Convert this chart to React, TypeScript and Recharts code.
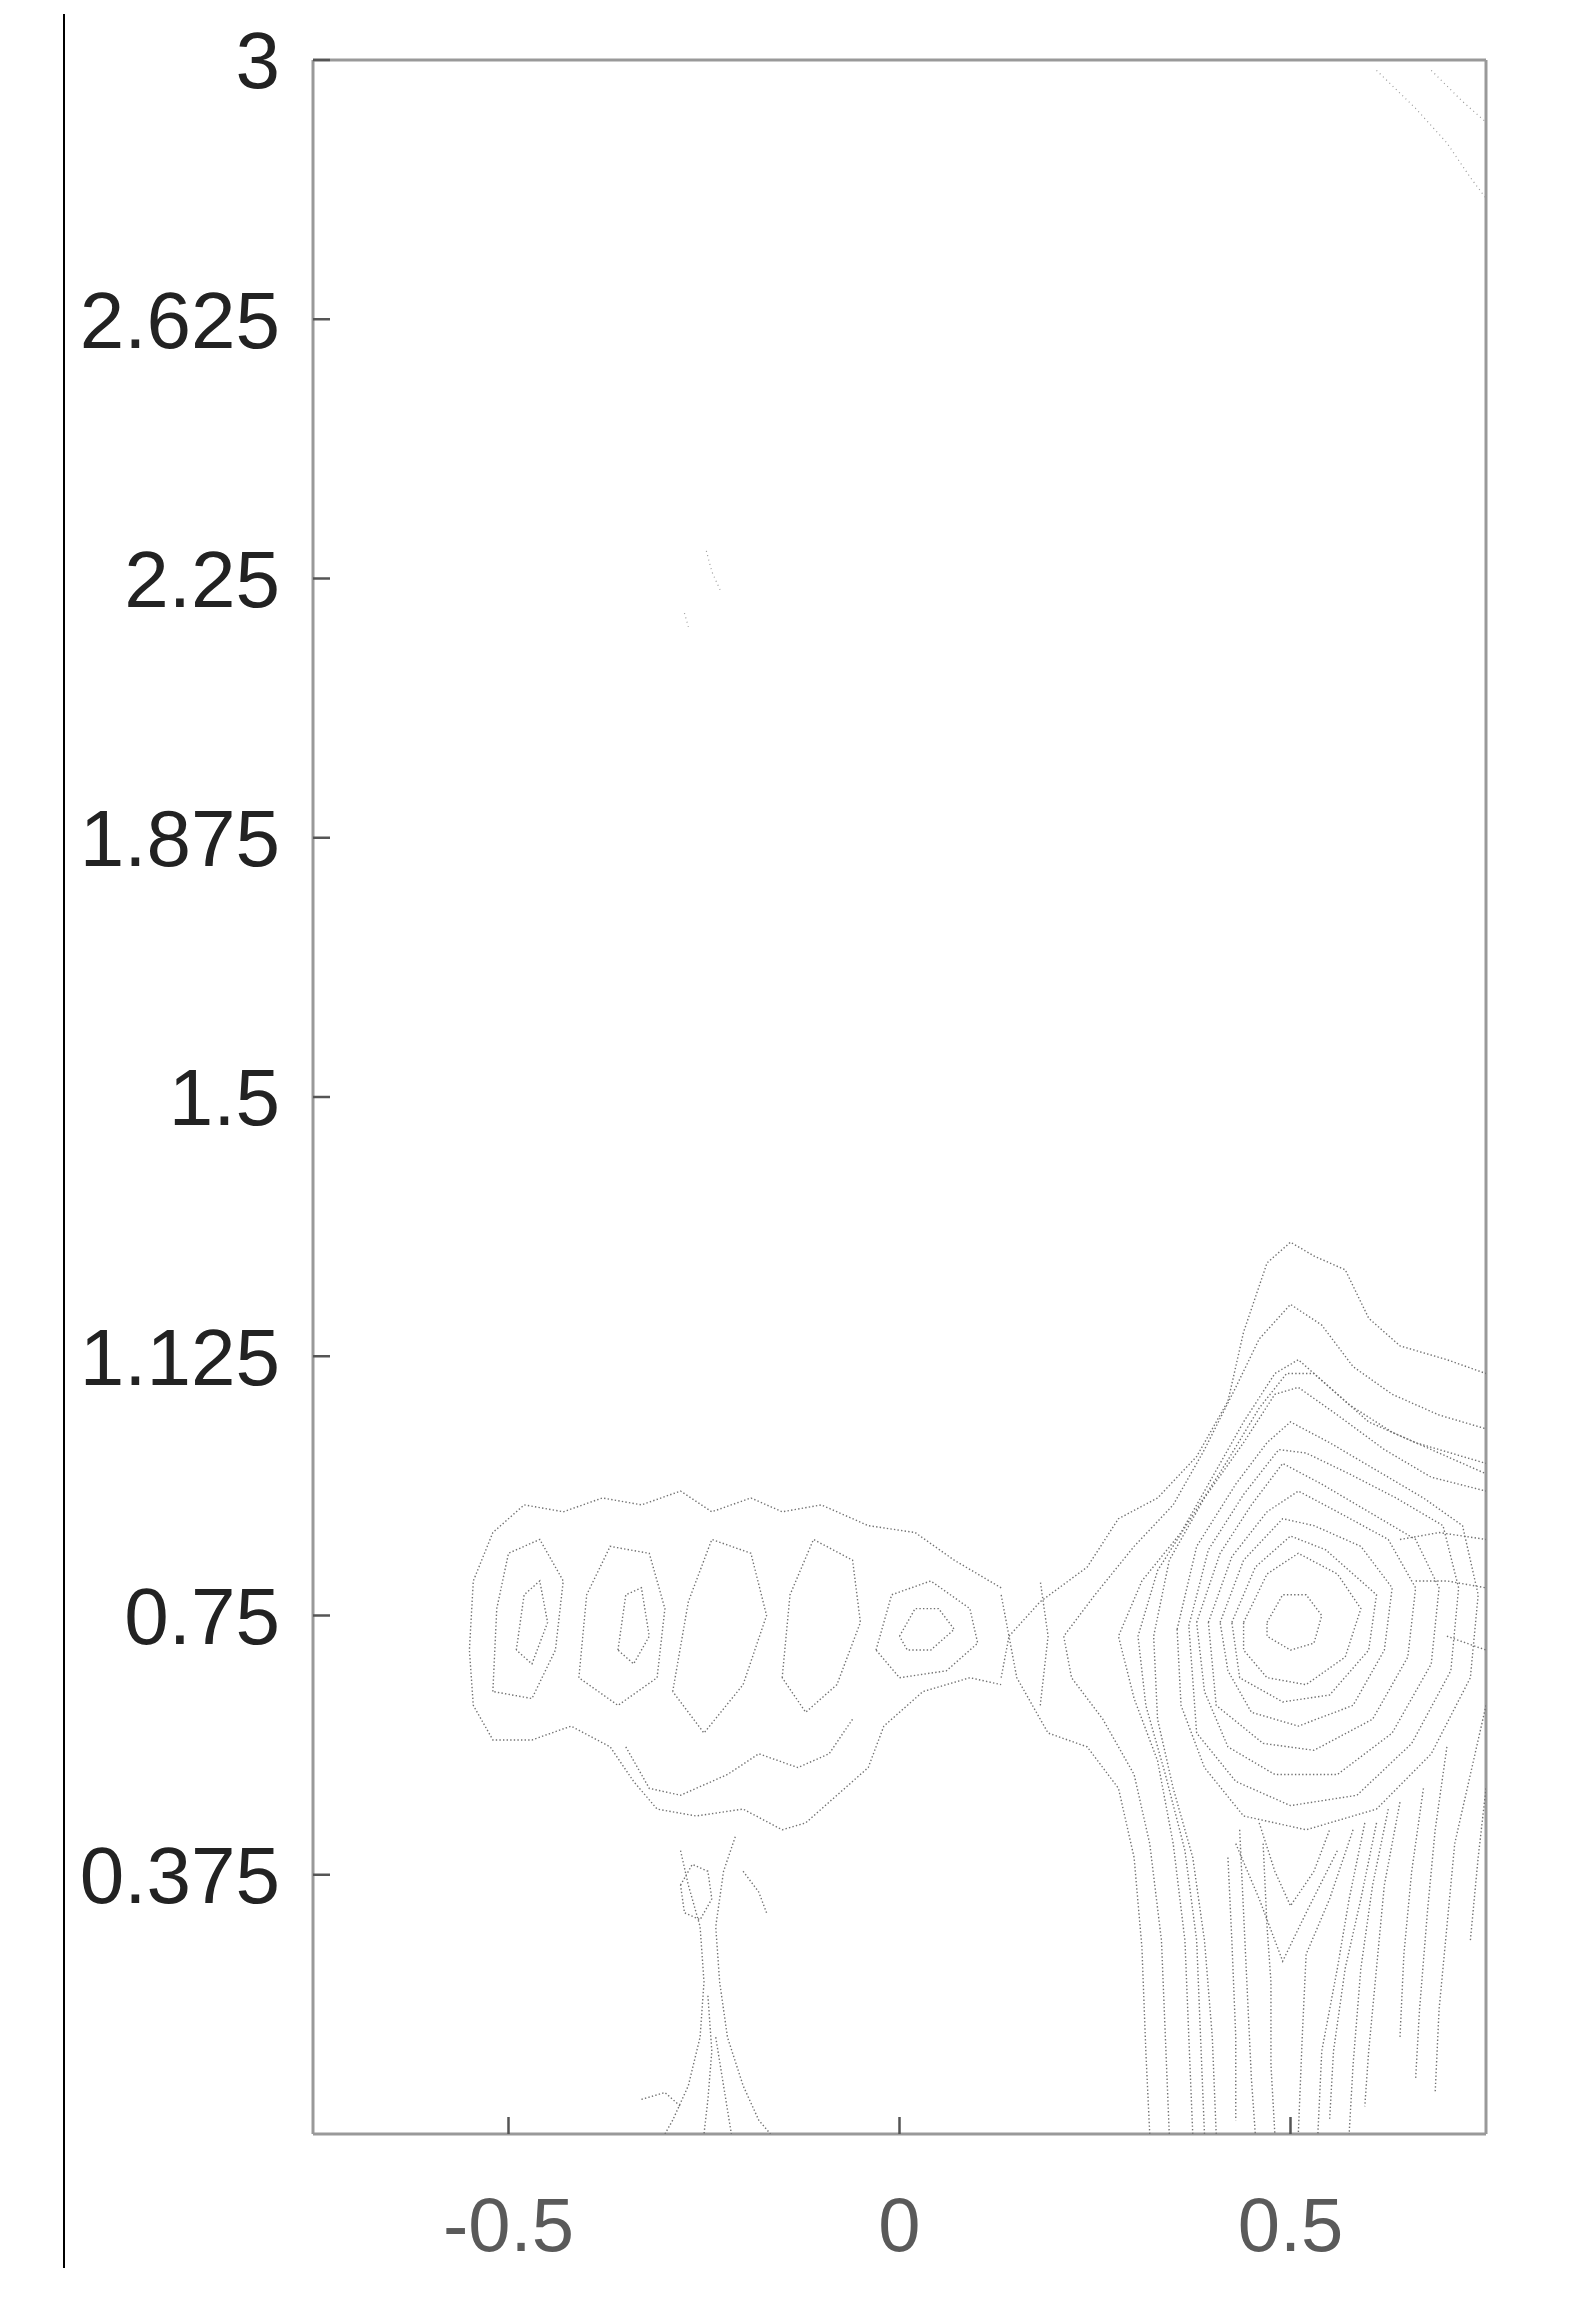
import { Scatter, ScatterChart, XAxis, YAxis } from "recharts";

type Pt = [number, number];

const FONT = '"Liberation Sans", Arial, Helvetica, sans-serif';

const X_TICKS = [-0.5, 0, 0.5];
const Y_TICKS = [0.375, 0.75, 1.125, 1.5, 1.875, 2.25, 2.625, 3];

// left lobe (x < 0.15)
const leftOuter: Pt[] = [
  [0.13, 0.79], [0.07, 0.83], [0.02, 0.87], [-0.04, 0.88], [-0.1, 0.91], [-0.15, 0.9], [-0.19, 0.92],
  [-0.24, 0.9], [-0.28, 0.93], [-0.33, 0.91], [-0.38, 0.92], [-0.43, 0.9], [-0.48, 0.91], [-0.52, 0.87],
  [-0.545, 0.8], [-0.55, 0.7], [-0.545, 0.62], [-0.52, 0.57], [-0.47, 0.57], [-0.42, 0.59], [-0.37, 0.56],
  [-0.34, 0.51], [-0.31, 0.47], [-0.26, 0.46], [-0.2, 0.47], [-0.15, 0.44], [-0.12, 0.45], [-0.08, 0.49],
  [-0.04, 0.53], [-0.02, 0.59], [0.03, 0.64], [0.09, 0.66], [0.13, 0.65],
];
const leftLoopA: Pt[] = [[-0.52, 0.64], [-0.515, 0.76], [-0.5, 0.84], [-0.46, 0.86], [-0.43, 0.8], [-0.44, 0.7], [-0.47, 0.63], [-0.52, 0.64]];
const leftLoopB: Pt[] = [[-0.41, 0.66], [-0.4, 0.78], [-0.37, 0.85], [-0.32, 0.84], [-0.3, 0.76], [-0.31, 0.66], [-0.36, 0.62], [-0.41, 0.66]];
const leftLoopC: Pt[] = [[-0.29, 0.64], [-0.27, 0.77], [-0.24, 0.86], [-0.19, 0.84], [-0.17, 0.75], [-0.2, 0.65], [-0.25, 0.58], [-0.29, 0.64]];
const leftLoopD: Pt[] = [[-0.15, 0.66], [-0.14, 0.78], [-0.11, 0.86], [-0.06, 0.83], [-0.05, 0.74], [-0.08, 0.65], [-0.12, 0.61], [-0.15, 0.66]];
const leftLoopE: Pt[] = [[-0.03, 0.7], [-0.01, 0.78], [0.04, 0.8], [0.09, 0.76], [0.1, 0.71], [0.06, 0.67], [0.0, 0.66], [-0.03, 0.7]];
const leftLoopE2: Pt[] = [[0.0, 0.72], [0.02, 0.76], [0.05, 0.76], [0.07, 0.73], [0.04, 0.7], [0.01, 0.7], [0.0, 0.72]];
const leftLoopF: Pt[] = [[-0.49, 0.7], [-0.48, 0.78], [-0.46, 0.8], [-0.45, 0.74], [-0.47, 0.68], [-0.49, 0.7]];
const leftLoopG: Pt[] = [[-0.36, 0.7], [-0.35, 0.78], [-0.33, 0.79], [-0.32, 0.72], [-0.34, 0.68], [-0.36, 0.7]];
const leftSmile: Pt[] = [[-0.35, 0.56], [-0.32, 0.5], [-0.28, 0.49], [-0.22, 0.52], [-0.18, 0.55], [-0.13, 0.53], [-0.09, 0.55], [-0.06, 0.6]];
const neck1: Pt[] = [[0.13, 0.66], [0.14, 0.72], [0.13, 0.78]];
const neck2: Pt[] = [[0.18, 0.62], [0.19, 0.72], [0.18, 0.8]];

// stem below the left lobe
const trunkLeft: Pt[] = [[-0.28, 0.41], [-0.27, 0.36], [-0.255, 0.3], [-0.25, 0.22], [-0.255, 0.14], [-0.27, 0.07], [-0.29, 0.02], [-0.3, 0.0]];
const trunkRight: Pt[] = [[-0.21, 0.43], [-0.225, 0.38], [-0.235, 0.3], [-0.23, 0.22], [-0.22, 0.14], [-0.2, 0.07], [-0.18, 0.02], [-0.165, 0.0]];
const trunkMid1: Pt[] = [[-0.245, 0.2], [-0.24, 0.12], [-0.245, 0.05], [-0.25, 0.0]];
const trunkMid2: Pt[] = [[-0.235, 0.14], [-0.225, 0.07], [-0.215, 0.0]];
const trunkKnot: Pt[] = [[-0.28, 0.36], [-0.265, 0.39], [-0.245, 0.38], [-0.24, 0.34], [-0.255, 0.31], [-0.275, 0.32], [-0.28, 0.36]];
const trunkSide: Pt[] = [[-0.2, 0.38], [-0.18, 0.35], [-0.17, 0.32]];
const trunkBase: Pt[] = [[-0.33, 0.05], [-0.3, 0.06], [-0.28, 0.04]];

// right peak
const ring1: Pt[] = [[0.47, 0.74], [0.49, 0.78], [0.52, 0.78], [0.54, 0.75], [0.53, 0.71], [0.5, 0.7], [0.47, 0.72], [0.47, 0.74]];
const ring2: Pt[] = [[0.44, 0.74], [0.47, 0.81], [0.51, 0.84], [0.56, 0.81], [0.59, 0.76], [0.57, 0.69], [0.52, 0.65], [0.47, 0.66], [0.44, 0.7], [0.44, 0.74]];
const ring2b: Pt[] = [
  [0.425, 0.74], [0.455, 0.82], [0.5, 0.865], [0.545, 0.845], [0.61, 0.78], [0.6, 0.7], [0.55, 0.635],
  [0.49, 0.625], [0.435, 0.66], [0.425, 0.74],
];
const ring3: Pt[] = [
  [0.41, 0.74], [0.44, 0.83], [0.49, 0.89], [0.53, 0.88], [0.59, 0.85], [0.63, 0.79], [0.62, 0.7], [0.58, 0.62],
  [0.51, 0.59], [0.45, 0.61], [0.42, 0.67], [0.41, 0.74],
];
const ring3b: Pt[] = [
  [0.395, 0.74], [0.425, 0.835], [0.47, 0.9], [0.51, 0.93], [0.56, 0.9], [0.625, 0.86], [0.66, 0.79], [0.65, 0.69],
  [0.605, 0.6], [0.53, 0.555], [0.465, 0.565], [0.405, 0.62], [0.395, 0.74],
];
const ring4: Pt[] = [
  [0.38, 0.74], [0.41, 0.84], [0.45, 0.91], [0.49, 0.97], [0.54, 0.94], [0.6, 0.9], [0.66, 0.86], [0.69, 0.79],
  [0.68, 0.68], [0.63, 0.58], [0.56, 0.52], [0.48, 0.52], [0.42, 0.56], [0.39, 0.64], [0.38, 0.74],
];
const ring4b: Pt[] = [
  [0.37, 0.735], [0.395, 0.845], [0.44, 0.925], [0.485, 0.99], [0.52, 0.985], [0.575, 0.955], [0.635, 0.92],
  [0.695, 0.88], [0.715, 0.79], [0.705, 0.67], [0.655, 0.565], [0.585, 0.49], [0.5, 0.475], [0.43, 0.51],
  [0.38, 0.58], [0.37, 0.735],
];
const ring5: Pt[] = [
  [0.355, 0.73], [0.38, 0.85], [0.43, 0.94], [0.47, 1.0], [0.5, 1.03], [0.55, 1.0], [0.61, 0.96], [0.67, 0.92],
  [0.72, 0.88], [0.74, 0.78], [0.73, 0.66], [0.68, 0.55], [0.61, 0.47], [0.52, 0.44], [0.44, 0.46], [0.39, 0.53],
  [0.36, 0.62], [0.355, 0.73],
];
const outer0: Pt[] = [
  [0.32, 0.0], [0.315, 0.12], [0.31, 0.27], [0.3, 0.4], [0.28, 0.5], [0.24, 0.56], [0.19, 0.58], [0.15, 0.66],
  [0.14, 0.72], [0.18, 0.77], [0.24, 0.82], [0.28, 0.89], [0.33, 0.92], [0.38, 0.98], [0.42, 1.06], [0.44, 1.16],
  [0.47, 1.26], [0.5, 1.29], [0.53, 1.27], [0.57, 1.25], [0.6, 1.18], [0.64, 1.14], [0.7, 1.12], [0.75, 1.1],
];
const outer1: Pt[] = [
  [0.345, 0.0], [0.34, 0.14], [0.335, 0.28], [0.32, 0.42], [0.3, 0.52], [0.26, 0.6], [0.22, 0.66], [0.21, 0.72],
  [0.25, 0.78], [0.3, 0.85], [0.35, 0.91], [0.39, 0.99], [0.43, 1.08], [0.46, 1.15], [0.5, 1.2], [0.54, 1.17],
  [0.58, 1.11], [0.63, 1.07], [0.69, 1.04], [0.75, 1.02],
];
const outer2: Pt[] = [
  [0.375, 0.0], [0.37, 0.14], [0.365, 0.28], [0.35, 0.42], [0.33, 0.54], [0.3, 0.63], [0.28, 0.72], [0.31, 0.8],
  [0.36, 0.87], [0.4, 0.95], [0.44, 1.03], [0.48, 1.1], [0.51, 1.12], [0.55, 1.08], [0.6, 1.03], [0.66, 1.0], [0.75, 0.97],
];
const outer2b: Pt[] = [
  [0.39, 0.0], [0.385, 0.14], [0.38, 0.28], [0.365, 0.41], [0.34, 0.52], [0.315, 0.62], [0.305, 0.72], [0.33, 0.815],
  [0.375, 0.895], [0.42, 0.975], [0.46, 1.05], [0.495, 1.1], [0.53, 1.1], [0.575, 1.055], [0.63, 1.015], [0.69, 0.985], [0.75, 0.955],
];
const outer3: Pt[] = [
  [0.405, 0.0], [0.4, 0.14], [0.39, 0.28], [0.375, 0.4], [0.35, 0.5], [0.33, 0.6], [0.325, 0.72], [0.345, 0.83],
  [0.39, 0.92], [0.44, 1.0], [0.48, 1.07], [0.51, 1.08], [0.56, 1.04], [0.62, 0.99], [0.68, 0.95], [0.75, 0.93],
];
const stripe1: Pt[] = [[0.435, 0.44], [0.44, 0.32], [0.445, 0.2], [0.45, 0.08], [0.455, 0.0]];
const stripe2: Pt[] = [[0.465, 0.42], [0.47, 0.3], [0.475, 0.22], [0.475, 0.1], [0.48, 0.0]];
const stripe3: Pt[] = [[0.58, 0.44], [0.55, 0.34], [0.52, 0.26], [0.515, 0.14], [0.51, 0.0]];
const stripe4: Pt[] = [[0.61, 0.45], [0.59, 0.34], [0.57, 0.24], [0.555, 0.12], [0.55, 0.02]];
const stripe5: Pt[] = [[0.64, 0.48], [0.62, 0.36], [0.61, 0.24], [0.6, 0.12], [0.595, 0.04]];
const stripe6: Pt[] = [[0.67, 0.5], [0.655, 0.38], [0.645, 0.26], [0.64, 0.14]];
const stripe7: Pt[] = [[0.75, 0.62], [0.73, 0.52], [0.71, 0.42], [0.7, 0.3], [0.69, 0.18], [0.685, 0.06]];
const stripe8: Pt[] = [[0.75, 0.5], [0.74, 0.4], [0.73, 0.28]];
const stripe9: Pt[] = [[0.595, 0.45], [0.575, 0.34], [0.56, 0.24], [0.54, 0.12], [0.535, 0.0]];
const stripe10: Pt[] = [[0.625, 0.47], [0.605, 0.36], [0.59, 0.24], [0.58, 0.1], [0.575, 0.0]];
const stripe11: Pt[] = [[0.7, 0.56], [0.685, 0.44], [0.675, 0.32], [0.665, 0.18], [0.66, 0.08]];
const stripe12: Pt[] = [[0.42, 0.4], [0.425, 0.28], [0.43, 0.14], [0.43, 0.02]];
const chevron1: Pt[] = [[0.43, 0.42], [0.46, 0.34], [0.49, 0.25], [0.52, 0.32], [0.56, 0.41]];
const chevron2: Pt[] = [[0.46, 0.45], [0.48, 0.38], [0.5, 0.33], [0.53, 0.38], [0.55, 0.44]];
const shelf1: Pt[] = [[0.64, 0.86], [0.69, 0.87], [0.75, 0.86]];
const shelf2: Pt[] = [[0.66, 0.8], [0.7, 0.8], [0.75, 0.79]];
const shelf3: Pt[] = [[0.7, 0.72], [0.75, 0.7]];

// faint marks far from the peaks
const strayA: Pt[] = [[-0.247, 2.29], [-0.24, 2.26], [-0.228, 2.23]];
const strayB: Pt[] = [[-0.275, 2.2], [-0.27, 2.18]];
const cornerA: Pt[] = [[0.61, 2.985], [0.66, 2.93], [0.7, 2.88], [0.73, 2.83], [0.75, 2.8]];
const cornerB: Pt[] = [[0.68, 2.985], [0.72, 2.94], [0.75, 2.91]];

const CONTOURS: Pt[][] = [
  leftOuter, leftLoopA, leftLoopB, leftLoopC, leftLoopD, leftLoopE, leftLoopE2, leftLoopF, leftLoopG, leftSmile,
  neck1, neck2, trunkLeft, trunkRight, trunkMid1, trunkMid2, trunkKnot, trunkSide, trunkBase,
  ring1, ring2, ring2b, ring3, ring3b, ring4, ring4b, ring5, outer0, outer1, outer2, outer2b, outer3,
  stripe1, stripe2, stripe3, stripe4, stripe5, stripe6, stripe7, stripe8, stripe9, stripe10, stripe11, stripe12,
  chevron1, chevron2, shelf1, shelf2, shelf3,
];
const FAINT: Pt[][] = [strayA, strayB, cornerA, cornerB];

const toRows = (pts: Pt[]) => pts.map(([x, y]) => ({ x, y }));

const contourLine = { stroke: "#727272", strokeWidth: 1.4, strokeDasharray: "1.4 2.2" };
const faintLine = { stroke: "#9a9a9a", strokeWidth: 1.2, strokeDasharray: "1 3.5" };
const noDot = () => <g />;

const BOX = { stroke: "#999", strokeWidth: 3 };
const TICK_LINE = { stroke: "#555", strokeWidth: 2.5 };

export default function App() {
  return (
    <div style={{ position: "absolute", left: 0, top: 0, width: 1570, height: 2314, background: "#fff" }}>
      <div style={{ position: "absolute", left: 63, top: 14, width: 2, height: 2254, background: "#000" }} />
      <ScatterChart width={1570} height={2314} margin={{ top: 59, right: 83, bottom: 179, left: 312 }}>
        <XAxis
          xAxisId="b"
          type="number"
          dataKey="x"
          domain={[-0.75, 0.75]}
          ticks={X_TICKS}
          interval={0}
          allowDataOverflow
          height={1}
          tickSize={-17}
          tickMargin={80}
          axisLine={BOX}
          tickLine={TICK_LINE}
          tick={{ fontSize: 76, fill: "#5a5a5a", fontFamily: FONT }}
        />
        <XAxis
          xAxisId="t"
          orientation="top"
          type="number"
          dataKey="x"
          domain={[-0.75, 0.75]}
          ticks={X_TICKS}
          interval={0}
          allowDataOverflow
          height={1}
          tickSize={-17}
          axisLine={BOX}
          tickLine={TICK_LINE}
          tick={false}
        />
        <YAxis
          yAxisId="l"
          type="number"
          dataKey="y"
          domain={[0, 3]}
          ticks={Y_TICKS}
          interval={0}
          allowDataOverflow
          width={1}
          tickSize={-17}
          tickMargin={50}
          axisLine={BOX}
          tickLine={TICK_LINE}
          tick={{ fontSize: 80, fill: "#222", fontFamily: FONT }}
        />
        <YAxis
          yAxisId="r"
          orientation="right"
          type="number"
          dataKey="y"
          domain={[0, 3]}
          ticks={Y_TICKS}
          interval={0}
          allowDataOverflow
          width={1}
          tickSize={-17}
          axisLine={BOX}
          tickLine={TICK_LINE}
          tick={false}
        />
        {CONTOURS.map((c, i) => (
          <Scatter
            key={`c${i}`}
            xAxisId="b"
            yAxisId="l"
            data={toRows(c)}
            line={contourLine}
            lineType="joint"
            shape={noDot}
            legendType="none"
            isAnimationActive={false}
          />
        ))}
        {FAINT.map((c, i) => (
          <Scatter
            key={`f${i}`}
            xAxisId="t"
            yAxisId="r"
            data={toRows(c)}
            line={faintLine}
            lineType="joint"
            shape={noDot}
            legendType="none"
            isAnimationActive={false}
          />
        ))}
      </ScatterChart>
    </div>
  );
}
